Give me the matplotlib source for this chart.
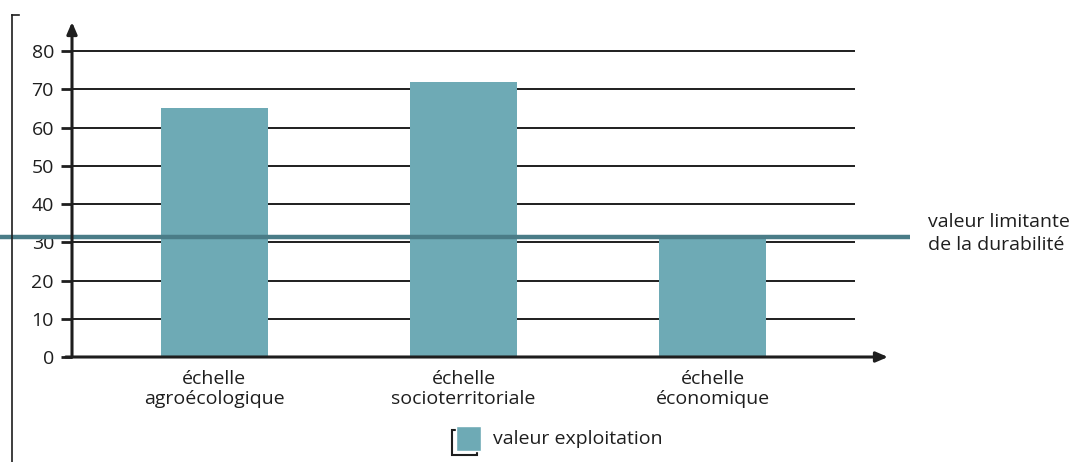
import matplotlib.pyplot as plt
from matplotlib.patches import Rectangle
from matplotlib.lines import Line2D

plt.rcParams['font.family'] = ['Open Sans', 'DejaVu Sans']

categories = ["échelle\nagroécologique", "échelle\nsocioterritoriale", "échelle\néconomique"]
values = [65, 72, 31.5]
seuil = 31.5
yticks = [0, 10, 20, 30, 40, 50, 60, 70, 80]
seuil_label = "valeur limitante\nde la durabilité"
legend_label = "valeur exploitation"

bar_color = "#6eaab5"
seuil_color = "#4a7c87"
ink = "#1e1e1e"
fs = 14

W, H = 1082, 462
fig = plt.figure(figsize=(W / 100, H / 100), dpi=100)

# axes box in pixels: y axis at x=72, arrow tip at x=888, baseline at y=357, arrow top y=22
ax = fig.add_axes([72 / W, (H - 357) / H, (888 - 72) / W, (357 - 22) / H])
xmin, xmax = -0.572, 2.705
ymax = 87.6
ax.set_xlim(xmin, xmax)
ax.set_ylim(0, ymax)
for s in ax.spines.values():
    s.set_visible(False)

x = list(range(len(categories)))
ax.bar(x, values, width=0.43, color=bar_color, zorder=1)

# horizontal grid lines
ax.hlines(yticks[1:], xmin, 2.572, color=ink, lw=1.4, zorder=0)

# threshold line running past the axes
ax.plot([-0.862, 2.793], [seuil, seuil], color=seuil_color, lw=3.2,
        clip_on=False, zorder=3, solid_capstyle='butt')
ax.text(2.865, seuil + 0.8, seuil_label, ha='left', va='center',
        fontsize=fs, color=ink, linespacing=1.4)

# axes with arrows
ax.annotate("", xy=(xmin, ymax), xytext=(xmin, 0),
            arrowprops=dict(arrowstyle="-|>,head_length=0.7,head_width=0.3",
                            color=ink, lw=2.2, shrinkA=0, shrinkB=0),
            annotation_clip=False, zorder=4)
ax.annotate("", xy=(xmax, 0), xytext=(xmin - 0.025, 0),
            arrowprops=dict(arrowstyle="-|>,head_length=0.7,head_width=0.3",
                            color=ink, lw=2.2, shrinkA=0, shrinkB=0),
            annotation_clip=False, zorder=4)

ax.set_yticks(yticks)
ax.set_yticklabels([str(t) for t in yticks], fontsize=fs, color=ink)
ax.tick_params(axis='y', length=8, width=2, color=ink, pad=5)
ax.set_xticks(x)
ax.set_xticklabels(categories, fontsize=fs, color=ink, linespacing=1.15)
ax.tick_params(axis='x', length=0, pad=9)

# bracket at the left margin
fig.add_artist(Line2D([12 / W, 12 / W], [0, 1 - 15 / H], color=ink, lw=1.2))
fig.add_artist(Line2D([12 / W, 19 / W], [1 - 15 / H, 1 - 15 / H], color=ink, lw=1.2))

# legend key with offset shadow
fig.add_artist(Rectangle((452 / W, (H - 455) / H), 25 / W, 25 / H,
                         facecolor='none', edgecolor=ink, lw=1.5))
fig.add_artist(Rectangle((456 / W, (H - 451) / H), 25 / W, 25 / H,
                         facecolor=bar_color, edgecolor='white', lw=1.0))
fig.text(493 / W, (H - 439) / H, legend_label, ha='left', va='center',
         fontsize=fs, color=ink)

fig.savefig("out.png", dpi=100, facecolor='white')
